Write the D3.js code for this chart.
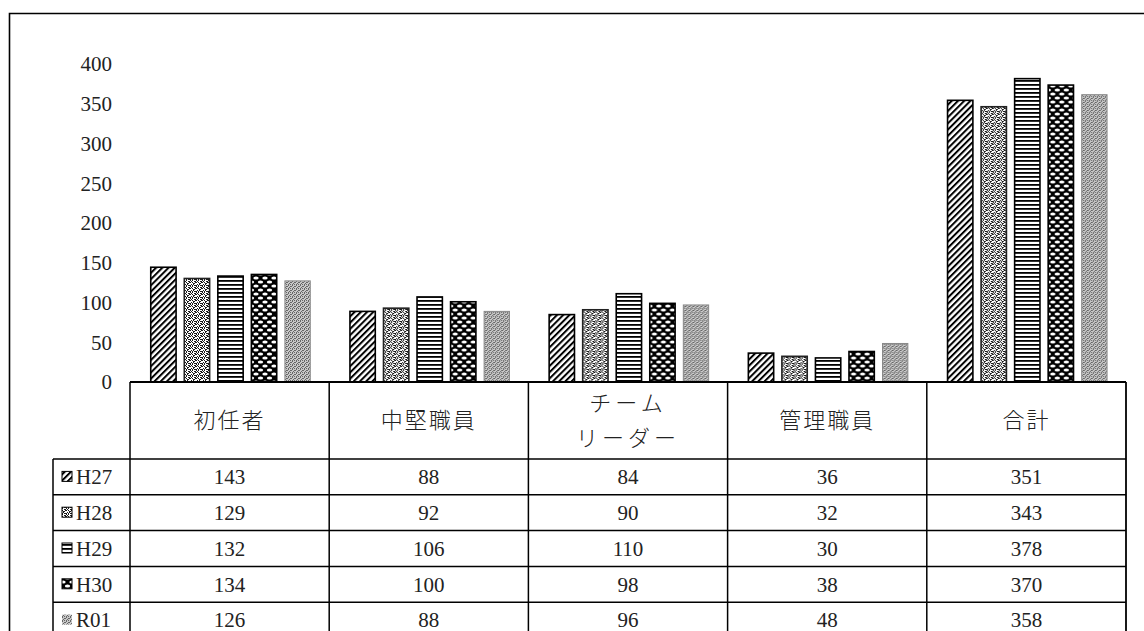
<!DOCTYPE html>
<html>
<head>
<meta charset="utf-8">
<script src="https://cdn.jsdelivr.net/npm/d3@7"></script>
<style>
  html, body { margin: 0; padding: 0; background: #fff; }
  svg { display: block; }
  .num { font-family: "Liberation Serif", "DejaVu Serif", serif; }
  .jp { font-family: "Noto Sans CJK JP", sans-serif; font-weight: 300; }
</style>
</head>
<body>
<script>
// ---- data ----
const categories = ["初任者", "中堅職員", "チーム\nリーダー", "管理職員", "合計"];
const seriesNames = ["H27", "H28", "H29", "H30", "R01"];
const H27 = [143, 88, 84, 36, 351];
const H28 = [129, 92, 90, 32, 343];
const H29 = [132, 106, 110, 30, 378];
const H30 = [134, 100, 98, 38, 370];
const R01 = [126, 88, 96, 48, 358];
const seriesValues = [H27, H28, H29, H30, R01];
const yTicks = [0, 50, 100, 150, 200, 250, 300, 350, 400];

// ---- layout ----
const W = 1144, H = 631;
const svg = d3.select("body").append("svg").attr("width", W).attr("height", H);

const defs = svg.append("defs");
// H27: diagonal "/"
const p0 = defs.append("pattern").attr("id", "pat0").attr("patternUnits", "userSpaceOnUse")
  .attr("width", 4.4).attr("height", 4.4).attr("patternTransform", "rotate(45)");
p0.append("rect").attr("width", 4.4).attr("height", 4.4).attr("fill", "#fff");
p0.append("rect").attr("width", 2).attr("height", 4.4).attr("fill", "#000");
// H28: grainy stipple
const p1 = defs.append("pattern").attr("id", "pat1").attr("patternUnits", "userSpaceOnUse")
  .attr("width", 6).attr("height", 6);
p1.append("rect").attr("width", 6).attr("height", 6).attr("fill", "#fff");
[[0,0],[2,0],[4,1],[1,2],[3,2],[5,3],[0,4],[2,4],[4,5],[1,5],[3,1],[5,0],[0,3],[2,3],[4,3],[5,5]].forEach(([x,y]) =>
  p1.append("rect").attr("x", x).attr("y", y).attr("width", 1).attr("height", 1).attr("fill", "#1a1a1a"));
// H29: horizontal lines
const p2 = defs.append("pattern").attr("id", "pat2").attr("patternUnits", "userSpaceOnUse")
  .attr("width", 8).attr("height", 4);
p2.append("rect").attr("width", 8).attr("height", 4).attr("fill", "#fff");
p2.append("rect").attr("y", 0).attr("width", 8).attr("height", 1.8).attr("fill", "#000");
// H30: dark with white bricks
const p3 = defs.append("pattern").attr("id", "pat3").attr("patternUnits", "userSpaceOnUse")
  .attr("width", 9).attr("height", 8);
p3.append("rect").attr("width", 9).attr("height", 8).attr("fill", "#000");
[[4.5, 2], [9, 6], [0, 6]].forEach(([cx, cy]) =>
  p3.append("ellipse").attr("cx", cx).attr("cy", cy).attr("rx", 2.7).attr("ry", 1.6).attr("fill", "#fff"));
// R01: grey fine texture
const p4 = defs.append("pattern").attr("id", "pat4").attr("patternUnits", "userSpaceOnUse")
  .attr("width", 4).attr("height", 4);
p4.append("rect").attr("width", 4).attr("height", 4).attr("fill", "#c8c8c8");
[[0,0],[2,1],[1,2],[3,3],[2,0],[0,2]].forEach(([x,y]) =>
  p4.append("rect").attr("x", x).attr("y", y).attr("width", 1).attr("height", 1).attr("fill", "#666"));

const fills = ["url(#pat0)", "url(#pat1)", "url(#pat2)", "url(#pat3)", "url(#pat4)"];
const strokes = ["#000", "#222", "#000", "#000", "#888"];

// outer frame
svg.append("path").attr("d", `M9.5,${H} V13.5 H${W}`).attr("fill", "none")
  .attr("stroke", "#000").attr("stroke-width", 1.6);

// scales
const plotLeft = 130, plotRight = 1126, baseY = 382;
const x0 = d3.scaleBand().domain(categories).range([plotLeft, plotRight]).padding(0);
const x1 = d3.scaleBand().domain(seriesNames).range([20, 181]).paddingInner(0.2).paddingOuter(0);
const y = d3.scaleLinear().domain([0, 400]).range([baseY, 61]);

// y axis labels
const yAxis = svg.append("g").attr("transform", `translate(112,0)`)
  .call(d3.axisLeft(y).tickValues(yTicks).tickSize(0).tickPadding(0));
yAxis.select(".domain").remove();
yAxis.selectAll("text").attr("class", "num").attr("font-size", 21).attr("fill", "#222")
  .attr("dy", (d) => (0.32 + (d / 400) * 0.15) + "em");

// bars
const groups = svg.append("g").selectAll("g").data(categories).join("g")
  .attr("transform", d => `translate(${x0(d)},0)`);
groups.selectAll("rect").data((c, ci) => seriesNames.map((s, si) => ({ s, si, v: seriesValues[si][ci] })))
  .join("rect")
  .attr("x", d => x1(d.s) + 0.75)
  .attr("y", d => y(d.v))
  .attr("width", x1.bandwidth() - 1.5)
  .attr("height", d => baseY - y(d.v))
  .attr("fill", d => fills[d.si])
  .attr("stroke", d => strokes[d.si])
  .attr("stroke-width", d => d.si === 4 ? 1 : 1.6);

// ---- data table ----
const headerTop = baseY, headerBottom = 459, rowH = 35.8, labelLeft = 53;
const rowY = d => headerBottom + d * rowH;
const tbl = svg.append("g");
const line = (x1_, y1_, x2_, y2_, w = 1.5) => tbl.append("line")
  .attr("x1", x1_).attr("y1", y1_).attr("x2", x2_).attr("y2", y2_)
  .attr("stroke", "#000").attr("stroke-width", w);

// horizontal lines
line(plotLeft, headerTop, plotRight, headerTop, 1.8);
for (let i = 0; i <= seriesNames.length; i++) line(labelLeft, rowY(i), plotRight, rowY(i));
// vertical lines
line(labelLeft, headerBottom, labelLeft, H + 10);
categories.forEach(c => line(x0(c), headerTop, x0(c), H + 10));
line(plotRight, headerTop, plotRight, H + 10, 1.8);

// header text
categories.forEach(c => {
  const parts = c.split("\n");
  const cx = x0(c) + x0.bandwidth() / 2;
  const cy = (headerTop + headerBottom) / 2;
  parts.forEach((p, i) => {
    tbl.append("text").attr("class", "jp").attr("x", cx)
      .attr("y", cy + (i - (parts.length - 1) / 2) * 35)
      .attr("dy", "0.36em").attr("text-anchor", "middle")
      .attr("font-size", 22).attr("fill", "#222").attr("letter-spacing", parts.length > 1 ? 4 : 2)
      .text(p);
  });
});

// rows
seriesNames.forEach((s, si) => {
  const cy = rowY(si) + rowH / 2;
  tbl.append("rect").attr("x", 62).attr("y", cy - 5.5).attr("width", 10).attr("height", 10)
    .attr("fill", fills[si]).attr("stroke", si === 4 ? "none" : "#000").attr("stroke-width", 1);
  tbl.append("text").attr("class", "num").attr("x", 76).attr("y", cy).attr("dy", "0.35em")
    .attr("font-size", 21).attr("fill", "#222").text(s);
  categories.forEach((c, ci) => {
    tbl.append("text").attr("class", "num").attr("x", x0(c) + x0.bandwidth() / 2).attr("y", cy)
      .attr("dy", "0.35em").attr("text-anchor", "middle").attr("font-size", 21).attr("fill", "#222")
      .text(seriesValues[si][ci]);
  });
});
</script>
</body>
</html>
